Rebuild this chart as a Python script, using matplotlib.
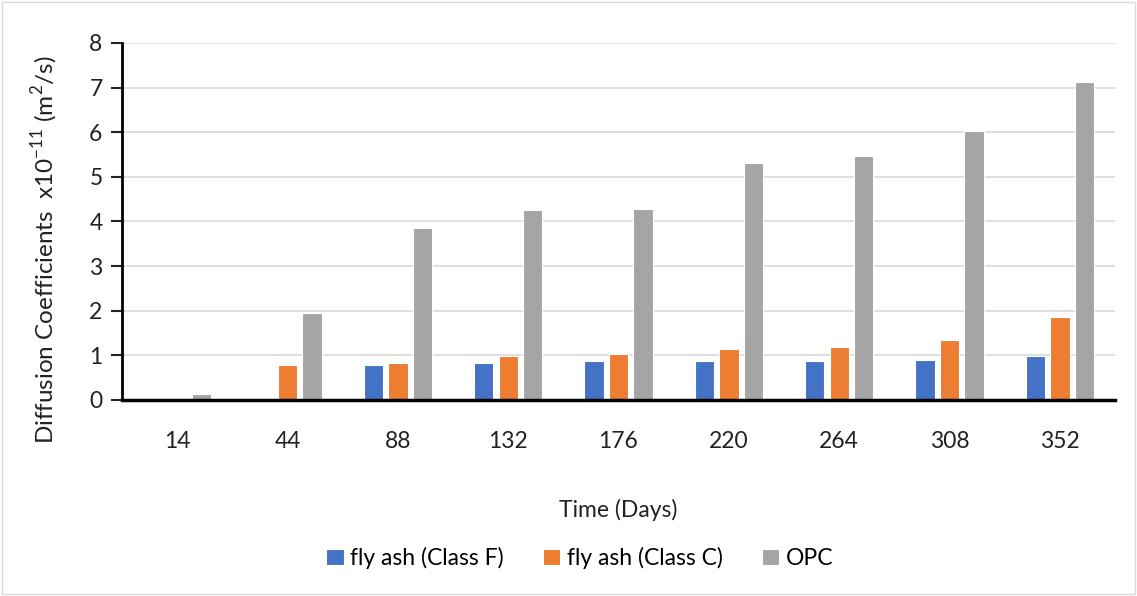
import matplotlib

matplotlib.use('Agg')
import matplotlib.pyplot as plt
import numpy as np
from matplotlib.patches import Rectangle

plt.rcParams['font.family'] = ['Lato', 'DejaVu Sans']
plt.rcParams['mathtext.fontset'] = 'custom'
plt.rcParams['mathtext.rm'] = 'Lato'

# data
days = ['14', '44', '88', '132', '176', '220', '264', '308', '352']
class_f = [0.0, 0.0, 0.78, 0.82, 0.87, 0.87, 0.87, 0.90, 0.98]
class_c = [0.0, 0.78, 0.82, 0.98, 1.02, 1.14, 1.18, 1.34, 1.87]
opc = [0.13, 1.95, 3.85, 4.25, 4.29, 5.31, 5.47, 6.03, 7.12]
series_names = ['fly ash (Class F)', 'fly ash (Class C)', 'OPC']
colors = ['#4472C4', '#ED7D31', '#A5A5A5']

fig = plt.figure(figsize=(11.37, 5.96), dpi=100)
ax = fig.add_axes([0.1073, 0.3289, 0.8734, 0.599])

x = np.arange(len(days))
width = 0.175
step = 0.222
for i, (vals, name, col) in enumerate(zip([class_f, class_c, opc], series_names, colors)):
    ax.bar(x + (i - 1) * step, vals, width, color=col, edgecolor='white',
           linewidth=0.8, label=name, zorder=3)

ax.set_xlim(-0.5, len(days) - 0.5)
ax.set_ylim(0, 8)
ax.set_yticks(range(0, 9))
ax.set_xticks(x)
ax.set_xticklabels(days)
ax.yaxis.grid(True, color='#D9D9D9', linewidth=1.2, zorder=0)
ax.set_axisbelow(True)

for s in ['top', 'right']:
    ax.spines[s].set_visible(False)
ax.spines['left'].set_linewidth(2)
ax.spines['bottom'].set_linewidth(2.5)
for s in ['left', 'bottom']:
    ax.spines[s].set_zorder(5)
ax.tick_params(axis='y', length=8, width=1.5, labelsize=16.5, pad=6, colors='#222222')
ax.tick_params(axis='x', length=0, labelsize=16.5, pad=22, colors='#222222')

ax.set_xlabel('Time (Days)', fontsize=16.5, labelpad=34, color='#222222')
ax.set_ylabel('Diffusion Coefficients  x10$^{-11}$ (m$^{2}$/s)', fontsize=17.5,
              color='#222222')
ax.yaxis.set_label_coords(-0.062, 0.42)

fig.legend(loc='center', bbox_to_anchor=(0.51, 1 - 558 / 596), ncol=3,
           frameon=False, fontsize=16.5, handlelength=0.75, handleheight=0.75,
           handletextpad=0.3, columnspacing=1.7)

# chart border
fig.patches.append(Rectangle((0.002, 0.003), 0.996, 0.994, transform=fig.transFigure,
                             fill=False, edgecolor='#D9D9D9', linewidth=1))

fig.savefig('out.png', dpi=100)
